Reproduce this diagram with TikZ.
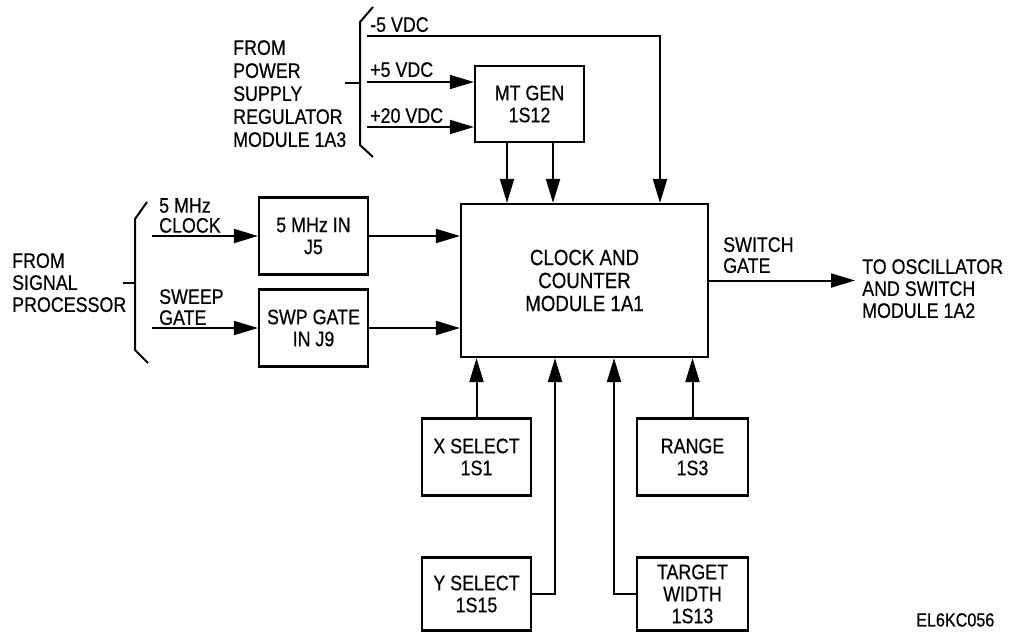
\documentclass[tikz,border=0pt]{standalone}
\usepackage{fontspec}
\setmainfont{Liberation Sans}[FakeStretch=0.85,FakeBold=0.5]
\usetikzlibrary{arrows.meta,calc}

\begin{document}
\begin{tikzpicture}[x=1pt,y=-1pt,
every node/.style={font=\fontsize{21}{22}\selectfont},
box/.style={draw,line width=2.2pt,minimum width=109pt,minimum height=77pt,align=center,inner sep=2pt},
lbl/.style={align=left,inner sep=0pt,anchor=north west},
wire/.style={line width=2pt},
arrow/.style={-{Triangle[length=24pt,width=14pt]},line width=2pt} ]

\useasboundingbox (0,0) rectangle (1009,633);

\node[box,minimum width=247pt,minimum height=153pt,font=\fontsize{22}{23}\selectfont](ccm) at (584.5,280.5) {CLOCK AND\\COUNTER\\MODULE 1A1};

\node[box,minimum height=76pt](mtgen) at (529.5,104) {MT GEN\\1S12};

\node[box](mhz) at (313.5,236) {5 MHz IN\\J5};

\node[box](swp) at (313.5,328) {SWP GATE\\IN J9};

\node[box](xsel) at (476.5,457) {X SELECT\\1S1};

\node[box,minimum width=111pt](range) at (692.5,457) {RANGE\\1S3};

\node[box,minimum height=73pt](ysel) at (476.5,594) {Y SELECT\\1S15};

\node[box,minimum width=111pt,minimum height=73pt](tw) at (692.5,594) {TARGET\\WIDTH\\1S13};

\node[lbl](m5lbl) at (370,17) {-5 VDC};

\node[lbl](p5lbl) at (370,62) {+5 VDC};

\node[lbl](p20lbl) at (370,108) {+20 VDC};

\node[lbl,font=\fontsize{21}{23}\selectfont](pwr) at (233,40) {FROM\\POWER\\SUPPLY\\REGULATOR\\MODULE 1A3};

\node[lbl,font=\fontsize{21}{20}\selectfont](clklbl) at (159,198) {5 MHz\\CLOCK};

\node[lbl,font=\fontsize{21}{21}\selectfont](swplbl) at (159,289) {SWEEP\\GATE};

\node[lbl](sig) at (12,253) {FROM\\SIGNAL\\PROCESSOR};

\node[lbl,font=\fontsize{21}{21}\selectfont](swg) at (723,237) {SWITCH\\GATE};

\node[lbl](osc) at (862,259) {TO OSCILLATOR\\AND SWITCH\\MODULE 1A2};

\node[lbl,font=\fontsize{19}{21}\selectfont](code) at (916,613) {EL6KC056};

\coordinate (m5) at (367,36);
\coordinate (p5) at (367,82);
\coordinate (p20) at (367,127);
\coordinate (clk) at (152,236);
\coordinate (swpin) at (152,328);

\draw[wire] (373,7) -- (360,22) -- (360,145) -- (373,157);
\draw[wire] (345,83) -- (360,83);
\draw[wire] (147,202) -- (135,219) -- (135,350) -- (148,363);
\draw[wire] (123,283) -- (135,283);

\draw[arrow] (m5) -| ([xshift=75.5pt]ccm.north);

\draw[arrow] (p5) -- (p5 -| mtgen.west);

\draw[arrow] (p20) -- (p20 -| mtgen.west);

\draw[arrow] ([xshift=-22.5pt]mtgen.south) -- ([xshift=-22.5pt]mtgen.south |- ccm.north);

\draw[arrow] ([xshift=23.5pt]mtgen.south) -- ([xshift=23.5pt]mtgen.south |- ccm.north);

\draw[arrow] (clk) -- (mhz);

\draw[arrow] (swpin) -- (swp);

\draw[arrow] (mhz) -- (mhz -| ccm.west);

\draw[arrow] (swp) -- (swp -| ccm.west);

\draw[arrow] (ccm) -- ($(ccm -| osc.west)+(-7,0)$);

\draw[arrow] (xsel) -- (xsel |- ccm.south);

\draw[arrow] (range) -- (range |- ccm.south);

\draw[arrow] (ysel) -| ([xshift=-29.5pt]ccm.south);

\draw[arrow] (tw) -| ([xshift=29.5pt]ccm.south);

\end{tikzpicture}
\end{document}
